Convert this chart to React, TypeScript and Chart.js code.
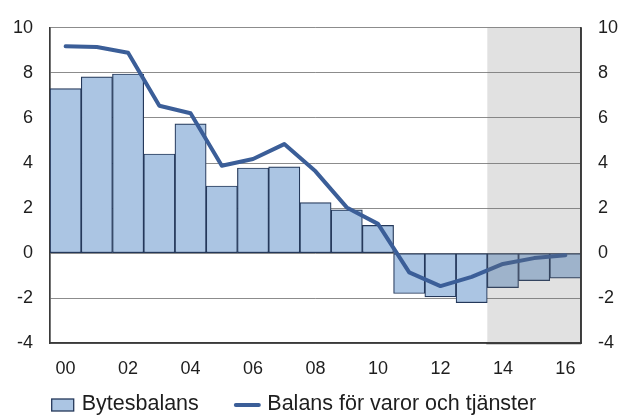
import React, { useEffect, useRef } from "react";
import { Chart, registerables } from "chart.js";

Chart.register(...registerables);

const years = ["00", "01", "02", "03", "04", "05", "06", "07", "08", "09", "10", "11", "12", "13", "14", "15", "16"];
const bytesbalans = [7.3, 7.82, 7.95, 4.4, 5.74, 2.98, 3.78, 3.83, 2.24, 1.92, 1.23, -1.79, -1.94, -2.2, -1.53, -1.22, -1.11];
const varorOchTjanster = [9.18, 9.15, 8.89, 6.54, 6.21, 3.88, 4.18, 4.84, 3.63, 2.03, 1.3, -0.85, -1.46, -1.05, -0.48, -0.22, -0.09];
const seriesNames = ["Bytesbalans", "Balans för varor och tjänster"];
const yMin = -4;
const yMax = 10;
const yStep = 2;
const forecastStartIndex = 14;

const FONT = "'Liberation Sans', Arial, sans-serif";
const BAR_FILL = "#abc5e3";
const BAR_BORDER = "#24385a";
const LINE_COLOR = "#3b5e98";
const AXIS_COLOR = "#3a3a3a";
const GRID_COLOR = "#8c8c8c";
const TEXT_COLOR = "#1e1e1e";

const forecastPlugin = {
  id: "forecastShade",
  afterDatasetsDraw(chart: any) {
    const { ctx, chartArea, scales } = chart;
    const xs = scales.x;
    const x0 = (xs.getPixelForValue(forecastStartIndex - 1) + xs.getPixelForValue(forecastStartIndex)) / 2;
    ctx.save();
    ctx.fillStyle = "rgba(115,115,115,0.21)";
    ctx.fillRect(x0, chartArea.top, chartArea.right - x0, chartArea.bottom - chartArea.top);
    ctx.strokeStyle = AXIS_COLOR;
    ctx.lineWidth = 1.7;
    ctx.beginPath();
    ctx.moveTo(chartArea.right, chartArea.top);
    ctx.lineTo(chartArea.right, chartArea.bottom);
    ctx.moveTo(x0 - 1, chartArea.bottom);
    ctx.lineTo(chartArea.right, chartArea.bottom);
    ctx.stroke();
    ctx.restore();
  },
};

const legendPlugin = {
  id: "bottomLegend",
  afterDraw(chart: any) {
    const { ctx, chartArea } = chart;
    const yMid = 405;
    let x = chartArea.left + 1.7;
    ctx.save();
    ctx.font = `21.5px ${FONT}`;
    ctx.textBaseline = "middle";
    ctx.textAlign = "left";
    ctx.fillStyle = TEXT_COLOR;
    // bar item
    ctx.fillStyle = BAR_FILL;
    ctx.fillRect(x, yMid - 6, 22, 12);
    ctx.strokeStyle = BAR_BORDER;
    ctx.lineWidth = 1.3;
    ctx.strokeRect(x, yMid - 6, 22, 12);
    x += 22 + 8;
    ctx.fillStyle = TEXT_COLOR;
    ctx.fillText(seriesNames[0], x, yMid - 1);
    x += ctx.measureText(seriesNames[0]).width + 37;
    // line item
    ctx.strokeStyle = LINE_COLOR;
    ctx.lineWidth = 4;
    ctx.lineCap = "round";
    ctx.beginPath();
    ctx.moveTo(x, yMid);
    ctx.lineTo(x + 23, yMid);
    ctx.stroke();
    x += 23 + 8.5;
    ctx.fillText(seriesNames[1], x, yMid - 1);
    ctx.restore();
  },
};

export default function App() {
  const ref = useRef<HTMLCanvasElement | null>(null);

  useEffect(() => {
    if (!ref.current) return;
    const chart = new Chart(ref.current, {
      type: "bar",
      data: {
        labels: years,
        datasets: [
          {
            type: "line",
            label: seriesNames[1],
            data: varorOchTjanster,
            borderColor: LINE_COLOR,
            backgroundColor: LINE_COLOR,
            borderWidth: 4,
            pointRadius: 0,
            tension: 0,
            borderJoinStyle: "round",
            borderCapStyle: "round",
            yAxisID: "y",
          } as any,
          {
            type: "bar",
            label: seriesNames[0],
            data: bytesbalans,
            backgroundColor: BAR_FILL,
            borderColor: BAR_BORDER,
            borderWidth: 1.2,
            borderSkipped: false,
            barPercentage: 1,
            categoryPercentage: 1,
            yAxisID: "y",
          } as any,
        ],
      },
      options: {
        responsive: false,
        animation: false,
        layout: { padding: { top: 22, left: 0, right: 0, bottom: 34.7 } },
        plugins: {
          tooltip: { enabled: false },
          legend: { display: false },
        },
        scales: {
          x: {
            grid: { display: false, drawTicks: false },
            border: { display: true, color: AXIS_COLOR, width: 1.7 },
            ticks: {
              autoSkip: false,
              maxRotation: 0,
              padding: 15,
              color: TEXT_COLOR,
              font: { family: FONT, size: 18 },
              callback: (_v: any, i: number) => (i % 2 === 0 ? years[i] : ""),
            },
            afterFit: (s: any) => {
              s.height = 40;
            },
          },
          y: {
            position: "left",
            min: yMin,
            max: yMax,
            grid: { color: GRID_COLOR, lineWidth: 1, drawTicks: false },
            border: { display: true, color: AXIS_COLOR, width: 1.7 },
            ticks: {
              stepSize: yStep,
              padding: 17,
              color: TEXT_COLOR,
              font: { family: FONT, size: 18 },
            },
            afterFit: (s: any) => {
              s.width = 50;
            },
          },
          y2: {
            position: "right",
            min: yMin,
            max: yMax,
            grid: { display: false, drawTicks: false },
            border: { display: true, color: AXIS_COLOR, width: 1.7 },
            ticks: {
              stepSize: yStep,
              padding: 17,
              color: TEXT_COLOR,
              font: { family: FONT, size: 18 },
            },
            afterFit: (s: any) => {
              s.width = 40;
            },
          },
        },
      },
      plugins: [forecastPlugin, legendPlugin],
    });
    return () => chart.destroy();
  }, []);

  return (
    <div style={{ position: "fixed", left: 0, top: 0, width: 621, height: 418, overflow: "hidden", background: "#fff" }}>
      <canvas ref={ref} width={621} height={418} style={{ display: "block" }} />
    </div>
  );
}
